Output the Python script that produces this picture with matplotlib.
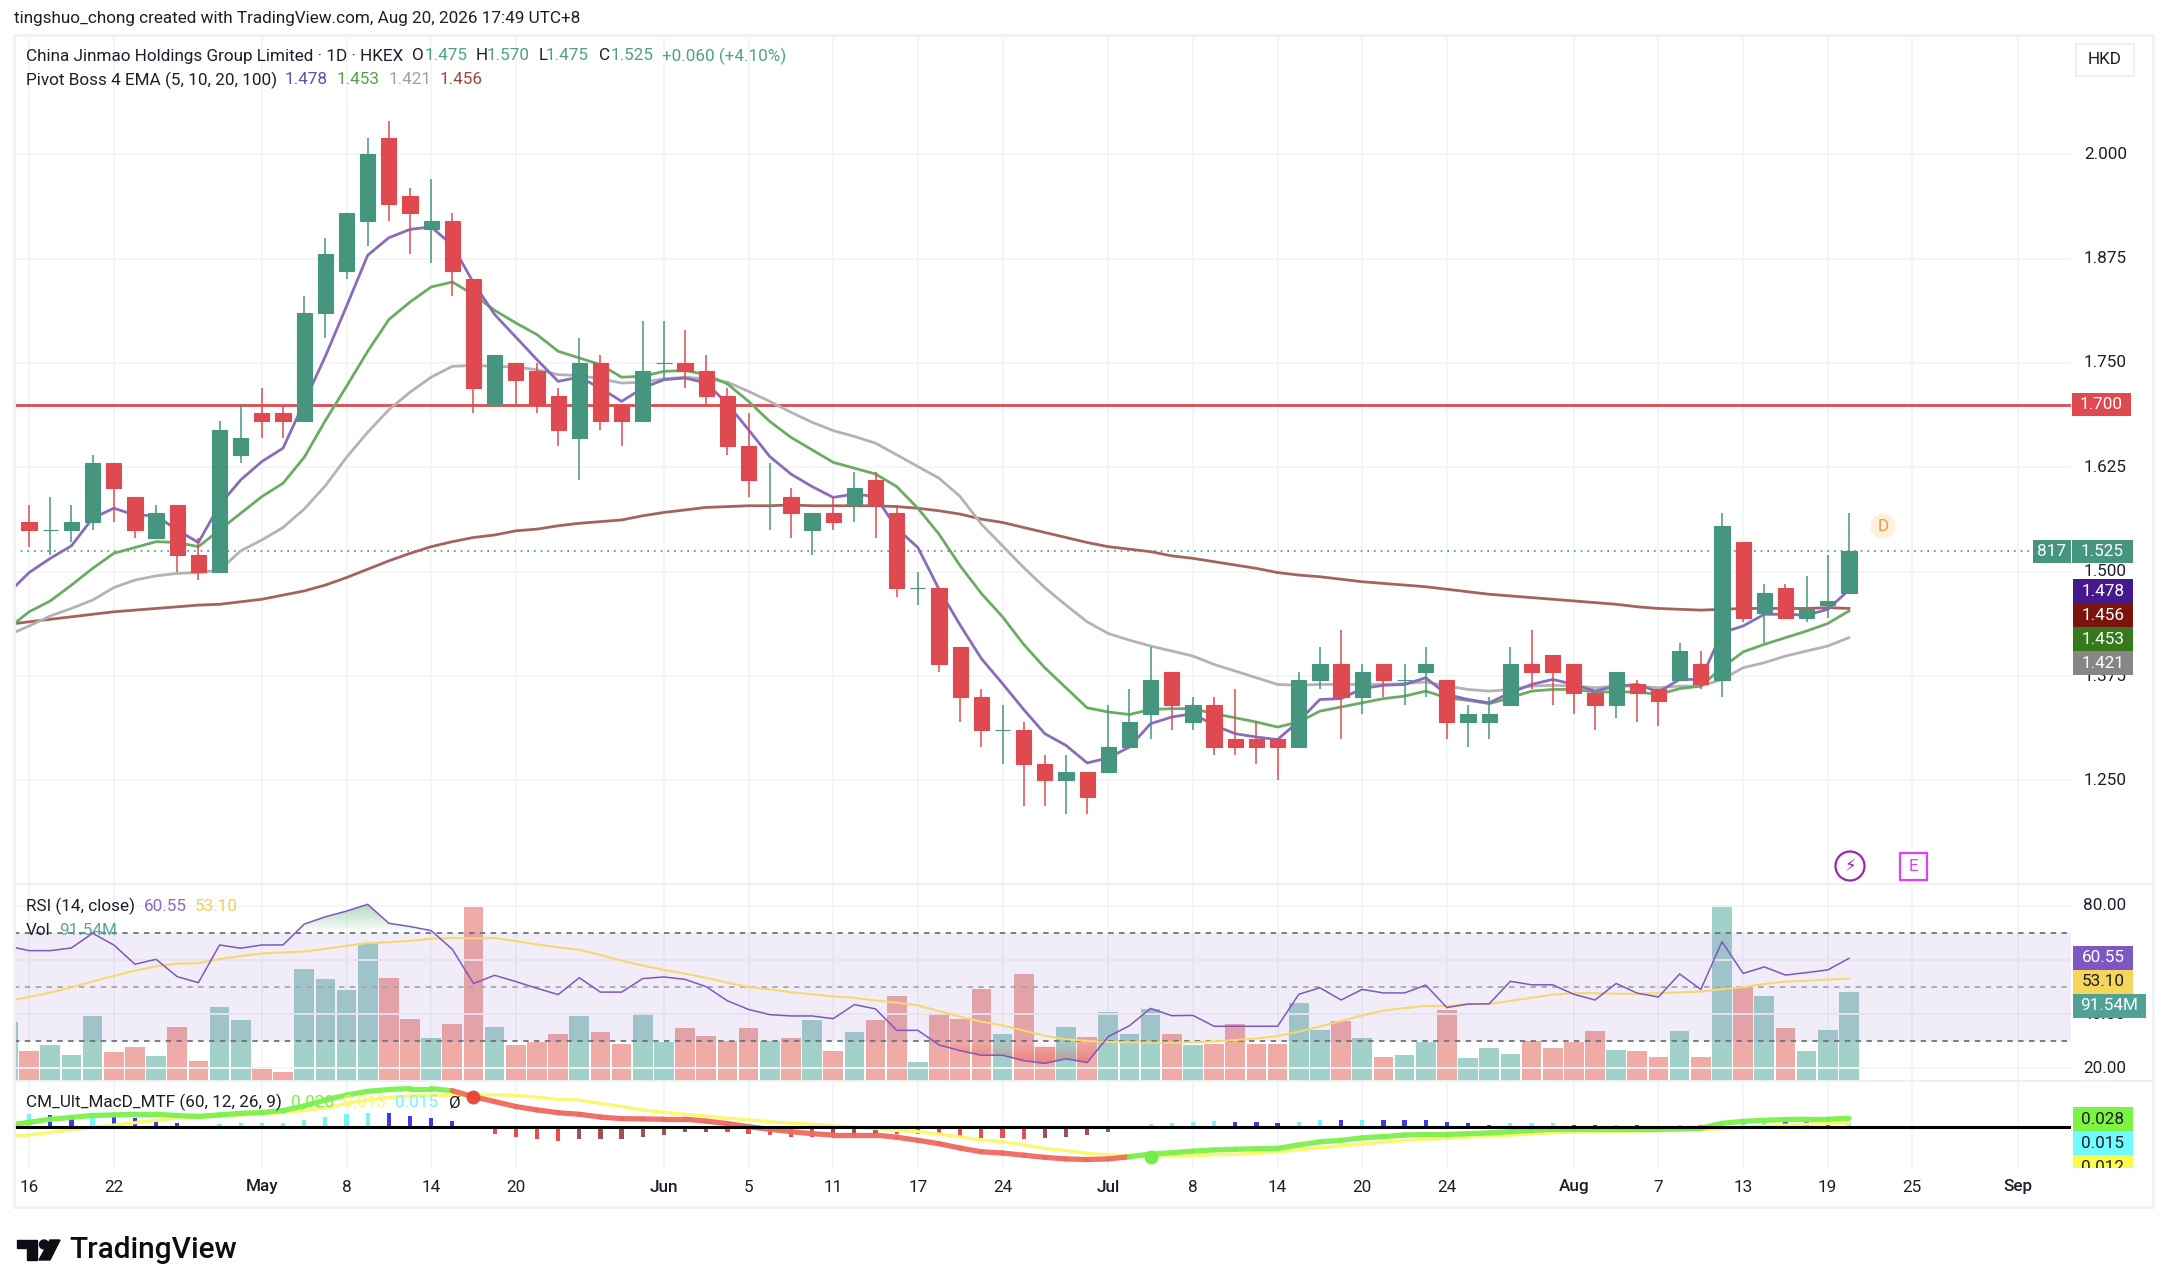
import numpy as np
import matplotlib
matplotlib.use('Agg')
import matplotlib.pyplot as plt
from matplotlib.patches import Rectangle, Circle, Polygon
from matplotlib.transforms import Bbox

plt.rcParams['font.family'] = ['Roboto', 'DejaVu Sans']

W, H = 2166, 1288

# daily candles, first one is Apr 16
opens = [1.56,1.55,1.55,1.56,1.63,1.59,1.54,1.58,1.52,1.50,1.64,1.69,1.69,1.68,1.81,1.86,1.92,2.02,1.95,1.91,1.92,1.85,1.70,1.75,1.74,1.71,1.66,1.75,1.70,1.68,1.75,1.75,1.74,1.71,1.65,1.58,1.59,1.55,1.57,1.58,1.61,1.57,1.48,1.48,1.41,1.35,1.31,1.31,1.27,1.25,1.26,1.26,1.29,1.33,1.38,1.32,1.34,1.30,1.30,1.30,1.29,1.37,1.39,1.35,1.39,1.37,1.38,1.37,1.32,1.32,1.34,1.39,1.40,1.39,1.355,1.34,1.365,1.36,1.37,1.39,1.37,1.535,1.45,1.48,1.445,1.46,1.475]
highs = [1.58,1.59,1.58,1.64,1.63,1.59,1.58,1.58,1.54,1.68,1.70,1.72,1.70,1.83,1.90,1.93,2.02,2.04,1.96,1.97,1.93,1.85,1.76,1.75,1.75,1.72,1.78,1.76,1.70,1.80,1.80,1.79,1.76,1.72,1.69,1.63,1.60,1.57,1.59,1.62,1.62,1.58,1.50,1.48,1.41,1.36,1.34,1.32,1.28,1.28,1.26,1.34,1.36,1.41,1.38,1.35,1.35,1.36,1.32,1.30,1.38,1.41,1.43,1.39,1.39,1.39,1.41,1.37,1.34,1.35,1.41,1.43,1.40,1.39,1.355,1.38,1.37,1.36,1.415,1.405,1.57,1.535,1.485,1.485,1.495,1.52,1.57]
lows = [1.53,1.52,1.535,1.55,1.56,1.54,1.54,1.50,1.49,1.50,1.63,1.66,1.66,1.68,1.78,1.85,1.89,1.92,1.88,1.87,1.83,1.69,1.70,1.70,1.69,1.65,1.61,1.67,1.65,1.68,1.73,1.72,1.70,1.64,1.59,1.55,1.54,1.52,1.55,1.56,1.54,1.47,1.46,1.38,1.32,1.29,1.27,1.22,1.22,1.21,1.21,1.26,1.29,1.30,1.31,1.31,1.28,1.28,1.27,1.25,1.29,1.36,1.30,1.33,1.35,1.34,1.35,1.30,1.29,1.30,1.34,1.36,1.34,1.33,1.31,1.325,1.32,1.315,1.37,1.36,1.35,1.44,1.415,1.445,1.44,1.445,1.475]
closes = [1.55,1.55,1.56,1.63,1.60,1.55,1.57,1.52,1.50,1.67,1.66,1.68,1.68,1.81,1.88,1.93,2.00,1.94,1.93,1.92,1.86,1.72,1.76,1.73,1.70,1.67,1.75,1.68,1.68,1.74,1.75,1.74,1.71,1.65,1.61,1.58,1.57,1.57,1.56,1.60,1.58,1.48,1.48,1.39,1.35,1.31,1.31,1.27,1.25,1.26,1.23,1.29,1.32,1.37,1.34,1.34,1.29,1.29,1.29,1.29,1.37,1.39,1.35,1.38,1.37,1.37,1.39,1.32,1.33,1.33,1.39,1.38,1.38,1.355,1.34,1.38,1.355,1.345,1.405,1.365,1.555,1.445,1.475,1.445,1.455,1.465,1.525]

# these start one bar earlier, that bar sits just off the left edge
ema5 = [1.474,1.499,1.516,1.531,1.564,1.576,1.568,1.567,1.55,1.535,1.58,1.61,1.632,1.648,1.703,1.758,1.818,1.879,1.90,1.91,1.913,1.891,1.846,1.808,1.781,1.754,1.728,1.733,1.72,1.704,1.72,1.73,1.732,1.726,1.701,1.67,1.638,1.617,1.602,1.589,1.593,1.59,1.552,1.529,1.479,1.436,1.396,1.366,1.335,1.306,1.292,1.271,1.277,1.29,1.318,1.326,1.33,1.316,1.306,1.302,1.299,1.321,1.347,1.348,1.36,1.364,1.365,1.373,1.353,1.347,1.343,1.355,1.365,1.371,1.365,1.357,1.363,1.365,1.356,1.371,1.371,1.427,1.435,1.449,1.449,1.448,1.455,1.478]
ema10 = [1.432,1.452,1.465,1.484,1.504,1.522,1.529,1.536,1.535,1.53,1.55,1.57,1.59,1.606,1.637,1.681,1.722,1.764,1.802,1.823,1.841,1.847,1.832,1.813,1.798,1.784,1.764,1.756,1.748,1.733,1.734,1.74,1.741,1.736,1.725,1.704,1.68,1.661,1.646,1.631,1.624,1.617,1.602,1.576,1.545,1.507,1.474,1.446,1.413,1.385,1.361,1.337,1.332,1.329,1.335,1.336,1.336,1.33,1.325,1.32,1.314,1.32,1.333,1.338,1.343,1.348,1.351,1.357,1.349,1.346,1.342,1.349,1.357,1.359,1.359,1.356,1.356,1.356,1.353,1.36,1.363,1.385,1.404,1.413,1.421,1.429,1.438,1.453]
ema20 = [1.424,1.435,1.447,1.456,1.466,1.481,1.49,1.495,1.498,1.499,1.502,1.525,1.538,1.553,1.575,1.603,1.637,1.667,1.694,1.715,1.733,1.746,1.747,1.746,1.745,1.742,1.736,1.735,1.731,1.726,1.727,1.731,1.733,1.731,1.727,1.716,1.704,1.691,1.679,1.669,1.662,1.654,1.64,1.626,1.612,1.59,1.557,1.531,1.505,1.481,1.46,1.44,1.426,1.418,1.411,1.405,1.399,1.389,1.381,1.373,1.365,1.364,1.365,1.365,1.365,1.365,1.366,1.368,1.363,1.359,1.357,1.359,1.363,1.364,1.363,1.361,1.363,1.363,1.361,1.363,1.363,1.371,1.385,1.391,1.399,1.405,1.411,1.421]
ema100 = [1.437,1.44,1.443,1.446,1.449,1.452,1.454,1.456,1.458,1.46,1.461,1.464,1.467,1.472,1.477,1.484,1.493,1.503,1.513,1.522,1.53,1.536,1.541,1.544,1.549,1.551,1.555,1.558,1.56,1.562,1.567,1.571,1.574,1.577,1.578,1.579,1.579,1.58,1.579,1.579,1.579,1.579,1.578,1.576,1.573,1.569,1.563,1.559,1.553,1.547,1.541,1.535,1.53,1.527,1.524,1.519,1.516,1.512,1.508,1.504,1.499,1.496,1.494,1.491,1.488,1.486,1.484,1.482,1.479,1.476,1.473,1.471,1.469,1.467,1.465,1.463,1.461,1.458,1.456,1.455,1.454,1.455,1.456,1.456,1.456,1.456,1.457,1.456]

volume = [61,30.9,36.7,26.4,67.2,29.5,35,25.4,55.6,20.9,76.1,63.1,12,9.3,115.2,105.3,93.3,142,106.3,64.1,43.9,58.7,179,55.6,36.7,40.1,48.7,67.2,50.1,38.4,70,40.1,54.2,46,40.8,54.2,40.8,44.2,63.1,30.9,50.1,63.1,87.8,19.2,68.6,64.1,95,48.7,110.4,35,55.6,45.3,71.3,48.4,74.4,48.4,36.7,38.4,58.3,38.4,38.4,80.3,52.8,61.4,43.9,24.7,26.4,40.1,72.7,23.7,34,28.1,40.8,34,39.8,51.5,32.2,30.9,25,51.1,25,180.8,96,87.8,54.2,30.5,52.8,91.54]
# whether that volume bar is a down day, for the hidden first bar
first_bar_up = True

rsi = [65.1,63.4,63.4,64.4,69.8,65.5,58.4,60.2,53.8,51.6,65.5,64.3,65.5,65.5,73.2,75.9,78,80.5,73.5,72.3,70.8,63.9,51.3,54.3,52,49.5,47.2,53.4,48.1,48.1,53.1,53.7,52.8,50.1,44.9,41.7,39.8,39.3,39.3,38.3,43.5,41.9,34,34,28.6,26.5,24.8,24.8,22.8,21.8,23.5,22.1,31.7,35.7,42.1,39.4,39.5,35.5,35.5,35.5,35.5,47.3,49.7,45.2,49.1,47.8,47.8,50.7,42.4,43.7,43.8,52.1,50.8,50.8,47.3,45.2,51.3,47.7,46.3,54.8,49.1,66.7,55,57.4,54.4,55.3,56.3,60.55]
rsi_ma = [44.9,46.3,47.9,49.9,52,54.1,56,57.6,58.6,58.8,60.3,61.4,62.4,62.7,63.1,64.1,65.2,66.2,66.5,67,67.8,68.1,67.9,68.1,66.9,65.7,64.6,63.7,61.8,59.7,57.9,56.3,54.9,53.4,51.6,50,49.1,48.1,47.3,46.5,46,45,44.2,43.2,41.1,39,37.2,35.8,33.9,32,30.7,30.1,29.7,29.6,29.4,29.4,29.6,29.9,30.4,31,31.9,33.5,35.4,37.4,39.5,41.3,42.2,43,43,43.6,43.7,44.9,46,47.2,47.7,47.7,47.5,47.5,47.7,48,48.3,49.2,49.9,51.1,52,52.3,52.7,53.1]

macd = [.006,.015,.025,.031,.037,.039,.041,.041,.037,.034,.039,.044,.047,.053,.068,.087,.103,.115,.121,.124,.124,.117,.098,.082,.066,.055,.046,.041,.032,.027,.026,.025,.025,.019,.011,.001,-.0075,-.015,-.0215,-.026,-.026,-.026,-.033,-.043,-.054,-.068,-.08,-.084,-.091,-.098,-.103,-.105,-.103,-.096,-.087,-.083,-.078,-.074,-.072,-.07,-.069,-.058,-.048,-.043,-.035,-.031,-.026,-.024,-.024,-.0215,-.019,-.015,-.011,-.0075,-.0075,-.0075,-.0075,-.0075,-.0075,-.006,-.004,.012,.018,.0215,.024,.025,.025,.028]
signal = [-.031,-.026,-.017,-.010,-.001,.006,.014,.0215,.029,.031,.035,.039,.043,.047,.053,.062,.076,.087,.095,.1,.103,.102,.102,.104,.102,.096,.089,.087,.076,.066,.055,.047,.041,.035,.028,.023,.017,.012,.009,.004,-.001,-.005,-.011,-.015,-.023,-.032,-.042,-.048,-.058,-.069,-.076,-.085,-.09,-.094,-.096,-.094,-.092,-.09,-.088,-.085,-.08,-.074,-.067,-.061,-.055,-.049,-.044,-.04,-.037,-.032,-.029,-.026,-.023,-.019,-.016,-.015,-.014,-.013,-.012,-.011,-.01,-.005,-.001,.002,.006,.009,.011,.013]
hist = [.041,.040,.034,.036,.035,.028,.0225,.014,.002,.009,.012,.0125,.013,.0225,.031,.041,.045,.044,.037,.028,.019,-.006,-.0225,-.031,-.04,-.045,-.04,-.0395,-.039,-.031,-.027,-.017,-.0165,-.017,-.0225,-.027,-.031,-.032,-.031,-.027,-.0225,-.023,-.024,-.027,-.031,-.036,-.037,-.038,-.037,-.031,-.026,-.017,-.0075,.01,.013,.017,.018,.0175,.017,.014,.017,.0225,.022,.0225,.022,.0215,.021,.017,.013,.0075,.012,.0125,.013,.0075,.007,.0075,.007,.001,.006,.005,.016,.019,.0195,.017,.016,.013,.015]

price_ticks = [2.000, 1.875, 1.750, 1.625, 1.500, 1.375, 1.250]
rsi_ticks = [80, 60, 40, 20]
time_ticks = [0, 4, 11, 15, 19, 23, 30, 34, 38, 42, 46, 51, 55, 59, 63, 67, 73, 77, 81, 85, 89, 94]
time_labels = ['16', '22', 'May', '8', '14', '20', 'Jun', '5', '11', '17', '24', 'Jul', '8', '14', '20', '24', 'Aug', '7', '13', '19', '25', 'Sep']

GREEN, RED = '#46967f', '#df4950'
GRID = '#f3f4f6'
TEXT = '#1b1f2b'

x = np.arange(len(opens))
x_prev = np.arange(-1, len(opens))
up = np.array(closes) >= np.array(opens)


def panel(top, bottom, zorder):
    left, right = 14, 2070.7
    ax = fig.add_axes([left / W, 1 - bottom / H, (right - left) / W, (bottom - top) / H], zorder=zorder)
    ax.set_xlim(-0.714, 96.48)
    ax.axis('off')
    ax.patch.set_visible(False)
    return ax


def label(px, py, s, color=TEXT, size=12.3, ha='left', zorder=3, **kw):
    return fig.text(px / W, 1 - py / H, s, color=color, fontsize=size, ha=ha, va='center', zorder=zorder, **kw)


def box(x0, y0, x1, y1, color, **kw):
    r = Rectangle((x0 / W, 1 - y1 / H), (x1 - x0) / W, (y1 - y0) / H, transform=fig.transFigure,
                  facecolor=color, edgecolor='none', zorder=5)
    r.update(kw)
    fig.add_artist(r)
    return r


def tag(x0, y0, x1, y1, color, s, tcolor='white'):
    box(x0, y0, x1, y1, color)
    return label((x0 + x1) / 2, (y0 + y1) / 2, s, color=tcolor, ha='center', zorder=6)


fig = plt.figure(figsize=(W / 100, H / 100), dpi=100, facecolor='white')

# price pane
ax = panel(36, 884, 1)
ax.set_ylim(1.126, 2.1416)
ax.hlines(price_ticks, -1, 97, color=GRID, lw=1.3, zorder=0)
ax.vlines(time_ticks, 1.0, 2.2, color=GRID, lw=1.3, zorder=0)
ax.axhline(1.7, color='#df4950', lw=2.0, zorder=1)
ax.axhline(closes[-1], color=GREEN, lw=1.2, ls=(0, (1, 3)), zorder=1)
ax.plot(x_prev, ema100, color='#a5635f', lw=2.0, zorder=2)
ax.plot(x_prev, ema20, color='#b3b3b3', lw=2.0, zorder=2)
ax.plot(x_prev, ema10, color='#6cab63', lw=2.0, zorder=2)
ax.plot(x_prev, ema5, color='#8a6bbd', lw=2.0, zorder=2)
colors = [GREEN if u else RED for u in up]
ax.vlines(x, lows, highs, color=colors, lw=1.1, zorder=3)
ax.bar(x, np.array(closes) - np.array(opens), bottom=opens, width=0.72, color=colors,
       edgecolor=colors, linewidth=0.8, zorder=4)

# volume sits under the rsi
ax_vol = panel(884, 1081, 1)
ax_vol.set_ylim(0, 202.7)
vol_colors = ['#a2d1ca' if first_bar_up else '#efaba5'] + ['#a2d1ca' if u else '#efaba5' for u in up]
ax_vol.bar(x_prev, volume, width=0.93, color=vol_colors, zorder=2)
ax_vol.vlines(time_ticks, 0, 210, color=GRID, lw=1.3, zorder=1)

ax_rsi = panel(884, 1081, 2)
ax_rsi.set_ylim(15.3, 88.0)
ax_rsi.hlines(rsi_ticks, -1, 97, color=GRID, lw=1.3, zorder=1)
ax_rsi.axhspan(30, 70, color='#7e57c2', alpha=0.1, lw=0, zorder=2)
for level, shade in [(70, '#6f727d'), (50, '#a5a7af'), (30, '#6f727d')]:
    ax_rsi.axhline(level, color=shade, lw=1.3, ls=(0, (3, 3)), zorder=3)

# overbought / oversold gradients, clipped to the area the rsi line cuts off
rsi_arr = np.array(rsi)
for where, lim, top_alpha, bot_alpha, tint in [(rsi_arr >= 70, (70, 81), 0, 0.38, (0.15, 0.6, 0.3)),
                                                (rsi_arr <= 30, (20, 30), 0.42, 0, (0.9, 0.2, 0.2))]:
    fill = ax_rsi.fill_between(x_prev, rsi_arr, 70 if lim[0] == 70 else 30, where=where, interpolate=True,
                               color='none', lw=0)
    grad = np.zeros((64, 2, 4))
    grad[..., :3] = tint
    grad[..., 3] = np.linspace(bot_alpha, top_alpha, 64)[:, None]
    im = ax_rsi.imshow(grad, extent=[-1, 97, lim[0], lim[1]], origin='upper', aspect='auto', zorder=3)
    p = fill.get_paths()
    if p:
        from matplotlib.path import Path
        im.set_clip_path(Path.make_compound_path(*p), transform=ax_rsi.transData)
ax_rsi.set_xlim(-0.714, 96.48)
ax_rsi.set_ylim(15.3, 88.0)
ax_rsi.plot(x_prev, rsi_ma, color='#f6d770', lw=1.5, zorder=4)
ax_rsi.plot(x_prev, rsi, color='#7e57c2', lw=1.1, zorder=5)

# macd pane
ax_m = panel(1081, 1168, 1)
ax_m.set_ylim(-0.1323, 0.1484)
ax_m.vlines(time_ticks, -0.2, 0.2, color=GRID, lw=1.3, zorder=0)
hist_x = x
prev_hist = hist[0]
for xi, h in zip(hist_x, hist):
    if h >= 0:
        c = '#6ff8fb' if h > prev_hist or xi == 0 else '#3b3bf0'
    else:
        c = '#ee4c4c' if h <= prev_hist else '#a85050'
    ax_m.bar(xi, h, width=0.2, color=c, zorder=1)
    prev_hist = h
ax_m.plot(x_prev, signal, color='#f9f871', lw=2.4, zorder=2)
macd_arr = np.array(macd)
sig_arr = np.array(signal)
for j in range(1, len(macd)):
    c = '#7cf04c' if macd_arr[j] >= sig_arr[j] else '#ef6a5f'
    ax_m.plot(x_prev[j - 1:j + 1], macd[j - 1:j + 1], color=c, lw=3.8, alpha=0.95, solid_capstyle='round', zorder=3)
ax_m.axhline(0, color='black', lw=2.2, zorder=4)
ax_m.plot([21], [macd[22]], 'o', color='#ea4335', ms=9, zorder=5, alpha=0.95)
ax_m.plot([53], [signal[54]], 'o', color='#72ee48', ms=9, zorder=5)

# pane separators and outer frame
for py in (884, 1081):
    box(14, py - 1, 2153, py + 1, '#eef0f3', zorder=4)
fig.add_artist(Rectangle((14 / W, 1 - 1207 / H), 2139 / W, 1172 / H, transform=fig.transFigure, fill=False,
                         edgecolor='#eff1f4', lw=2.0, zorder=4))

# header
label(14, 18, 'tingshuo_chong created with TradingView.com, Aug 20, 2026 17:49 UTC+8')
label(25.5, 56, 'China Jinmao Holdings Group Limited · 1D · HKEX')
VAL = '#4fa08b'
for px, s, c in [(412, 'O', TEXT), (425, '1.475', VAL), (475.5, 'H', TEXT), (487, '1.570', VAL), (539, 'L', TEXT),
                 (546, '1.475', VAL), (599, 'C', TEXT), (611, '1.525', VAL), (662, '+0.060 (+4.10%)', VAL)]:
    label(px, 56, s, color=c)
label(25.5, 80, 'Pivot Boss 4 EMA (5, 10, 20, 100)')
for px, s, c in [(285, '1.478', '#6a4bb0'), (337, '1.453', '#55a044'), (389, '1.421', '#a0a0a0'), (440, '1.456', '#a3423c')]:
    label(px, 80, s, color=c)

label(25.5, 906.7, 'RSI (14, close)')
label(144, 906.7, '60.55', color='#8b68c8')
label(195, 906.7, '53.10', color='#f5cf58')
label(25.5, 930.7, 'Vol')
label(58.7, 930.7, '91.54M', color='#55a89b')
label(25.5, 1102.7, 'CM_Ult_MacD_MTF (60, 12, 26, 9)')
label(291, 1102.7, '0.028', color='#7cf04c')
label(343, 1102.7, '0.013', color='#f9f871')
label(395, 1102.7, '0.015', color='#6ff8fb')
label(449, 1102.7, 'Ø')

# axis labels, price pos follows the pane scale
for t in price_ticks:
    py = 154.2 + (2 - t) * 835
    label(2084, py, f'{t:.3f}')
for t in rsi_ticks:
    py = 905.7 + (80 - t) * 2.71
    label(2083, py, f'{t:.2f}')
for i, s in zip(time_ticks, time_labels):
    weight = 'medium' if s.isalpha() else 'normal'
    label(29.1 + 21.16 * i, 1187, s, ha='center', fontweight=weight)

# price tags
tag(2072, 393, 2131, 416, '#df4950', '1.700')
tag(2033, 539.5, 2071, 563, GREEN, '817')
tag(2072, 539.5, 2133, 563, GREEN, '1.525')
tag(2073, 579, 2133, 603, '#45198c', '1.478')
tag(2073, 603, 2133, 627, '#7a140c', '1.456')
tag(2073, 627, 2133, 651, '#35791c', '1.453')
tag(2073, 651, 2133, 675, '#868686', '1.421')
tag(2073, 946, 2133, 970, '#7e57c2', '60.55')
tag(2073, 970, 2133, 994, '#f5d65b', '53.10', tcolor=TEXT)
tag(2073, 994, 2146, 1018, '#4fa396', '91.54M')
tag(2073, 1107, 2133, 1131, '#7bf542', '0.028', tcolor=TEXT)
tag(2073, 1131, 2133, 1155, '#70fbff', '0.015', tcolor=TEXT)
box(2073, 1155, 2133, 1168, '#fbfb4a')
clipped = label(2103, 1167, '0.012', ha='center', zorder=6)
clipped.set_clip_box(Bbox([[2073, H - 1168], [2133, H - 1155]]))
clipped.set_clip_on(True)

# HKD button
fig.add_artist(Rectangle((2076 / W, 1 - 76 / H), 58 / W, 32 / H, transform=fig.transFigure, facecolor='white',
                         edgecolor='#eceef2', lw=1.2, zorder=5))
label(2105, 60, 'HKD', ha='center', zorder=6)

# event markers
fig.add_artist(Circle((1883 / W, 1 - 526 / H), 0.006, transform=fig.dpi_scale_trans + fig.transFigure.inverted() + fig.transFigure,
                      visible=False))
bbox_ax = fig.add_axes([0, 0, 1, 1], zorder=6)
bbox_ax.set_xlim(0, W)
bbox_ax.set_ylim(H, 0)
bbox_ax.axis('off')
bbox_ax.patch.set_visible(False)
bbox_ax.add_patch(Circle((1883, 526), 12.5, facecolor='#fdf0dc', edgecolor='none'))
bbox_ax.text(1883, 526, 'D', color='#f39c3d', fontsize=12.3, ha='center', va='center')
bbox_ax.add_patch(Circle((1850, 866), 14.5, facecolor='white', edgecolor='#9c27b0', lw=1.6))
bbox_ax.text(1850, 866, '⚡', color='#9c27b0', fontsize=12, ha='center', va='center', family='DejaVu Sans')
bbox_ax.add_patch(Rectangle((1900, 853), 27, 27, facecolor='white', edgecolor='#e040fb', lw=1.6))
bbox_ax.text(1913.5, 866, 'E', color='#e040fb', fontsize=12.3, ha='center', va='center')

# logo
bbox_ax.add_patch(Polygon([(17, 1240), (37, 1240), (37, 1260), (27, 1260), (27, 1248), (17, 1248)], color='#0c0e15'))
bbox_ax.add_patch(Circle((44, 1244.5), 4.5, color='#0c0e15'))
bbox_ax.add_patch(Polygon([(50, 1240), (60, 1240), (50, 1260), (39, 1260)], color='#0c0e15'))
bbox_ax.text(69, 1250, 'TradingView', color='#0c0e15', fontsize=21.5, fontweight='medium', ha='left', va='center')

fig.savefig('out.png', dpi=100, facecolor='white')
